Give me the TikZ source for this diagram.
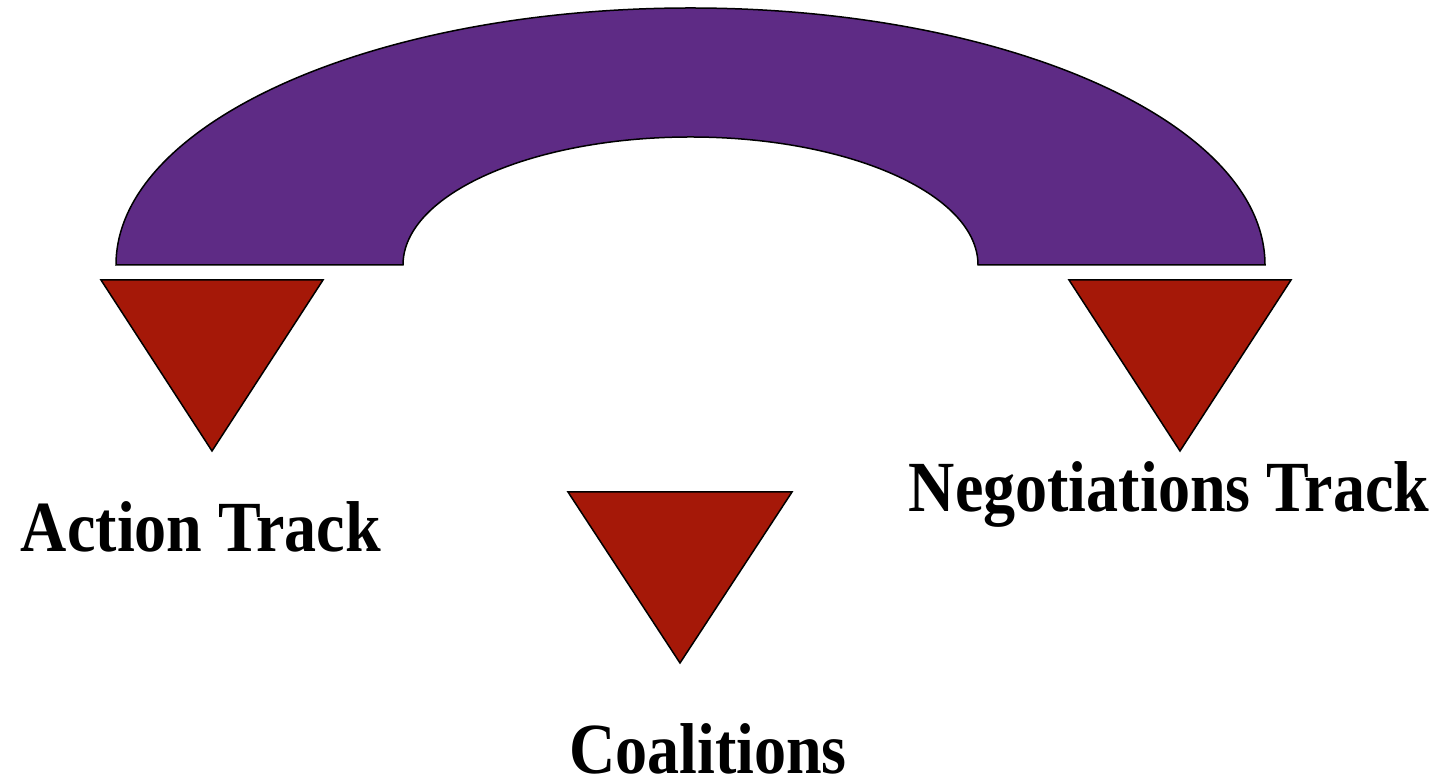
\documentclass[tikz,border=0pt]{standalone}
\usepackage{fontspec}
\setmainfont{Liberation Serif}
\definecolor{archpurple}{HTML}{5E2B85}
\definecolor{trired}{HTML}{A51808}
\begin{document}
\begin{tikzpicture}[x=1pt,y=1pt,
  shapeline/.style={draw=black,line width=1.5pt,line join=miter},
  lbl/.style={inner sep=0pt,anchor=base,xscale=0.89,font=\fontsize{72}{80}\selectfont\bfseries}]
\useasboundingbox (0,0) rectangle (1440,784);
% arch
\path[shapeline,fill=archpurple] (116,519)
  arc[start angle=180,end angle=0,x radius=574.5,y radius=257]
  -- (978,519)
  arc[start angle=0,end angle=180,x radius=287.5,y radius=128]
  -- cycle;
% triangles
\path[shapeline,fill=trired] (101,504) -- (323,504) -- (212,333) -- cycle;
\path[shapeline,fill=trired] (1069,504) -- (1291,504) -- (1180,333) -- cycle;
\path[shapeline,fill=trired] (568,292) -- (792,292) -- (680,121) -- cycle;
% labels
\node[lbl] (action) at (201,232) {Action Track};
\node[lbl] (nego) at (1169,272) {Negotiations Track};
\node[lbl] (coal) at (708,10) {Coalitions};
\end{tikzpicture}
\end{document}
